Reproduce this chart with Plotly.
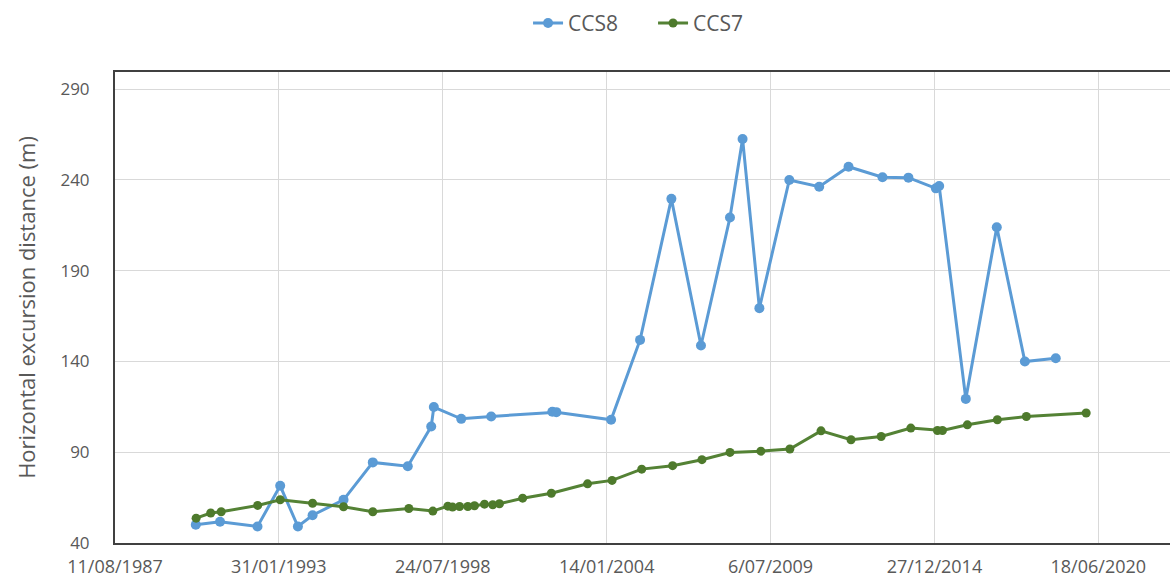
import plotly.graph_objects as go

# CCS8 survey dates and horizontal excursion distance (m)
ccs8_dates = [
    "1990-04-23", "1991-02-13", "1992-05-15", "1993-02-16", "1993-09-20",
    "1994-03-18", "1995-03-31", "1996-03-22", "1997-05-23", "1998-03-05",
    "1998-04-06", "1999-03-06", "2000-03-06", "2002-03-22", "2002-05-10",
    "2004-03-08", "2005-02-25", "2006-03-14", "2007-03-10", "2008-02-27",
    "2008-07-30", "2009-02-20", "2010-02-20", "2011-02-20", "2012-02-13",
    "2013-04-02", "2014-02-13", "2015-01-14", "2015-02-23", "2016-01-14",
    "2017-01-26", "2018-01-04", "2019-01-16",
]
ccs8_values = [
    50.1, 51.7, 49.1, 71.5, 49.1, 55.3, 63.8, 84.4, 82.3, 104.2,
    114.9, 108.4, 109.7, 112.3, 112.1, 107.9, 151.9, 229.6, 148.8, 219.3,
    262.6, 169.4, 240.0, 236.3, 247.3, 241.5, 241.3, 235.4, 236.7, 119.4,
    214.0, 140.0, 141.8,
]

# CCS7 survey dates and horizontal excursion distance (m)
ccs7_dates = [
    "1990-04-27", "1990-10-22", "1991-02-27", "1992-05-17", "1993-02-16",
    "1994-03-18", "1995-03-31", "1996-03-22", "1997-06-05", "1998-03-25",
    "1998-09-24", "1998-11-20", "1999-02-14", "1999-05-26", "1999-08-15",
    "1999-12-15", "2000-03-25", "2000-06-15", "2001-03-25", "2002-03-10",
    "2003-05-26", "2004-03-20", "2005-03-17", "2006-03-29", "2007-03-22",
    "2008-02-27", "2009-03-10", "2010-02-27", "2011-03-14", "2012-03-14",
    "2013-03-17", "2014-03-14", "2015-02-02", "2015-04-04", "2016-02-02",
    "2017-02-02", "2018-01-22", "2020-01-22",
]
ccs7_values = [
    53.7, 56.5, 57.2, 60.7, 63.8, 61.9, 60.0, 57.2, 59.0, 57.6,
    60.3, 59.8, 60.1, 60.1, 60.5, 61.4, 61.1, 61.6, 64.7, 67.4,
    72.6, 74.5, 80.7, 82.6, 85.9, 89.9, 90.6, 91.8, 101.8, 96.9,
    98.7, 103.3, 102.0, 102.0, 105.1, 107.9, 109.7, 111.6,
]

# Date axis ticks every 2000 days
x_tick_dates = ["1987-08-11", "1993-01-31", "1998-07-24", "2004-01-14",
                "2009-07-06", "2014-12-27", "2020-06-18"]
x_tick_labels = ["11/08/1987", "31/01/1993", "24/07/1998", "14/01/2004",
                 "6/07/2009", "27/12/2014", "18/06/2020"]
y_tick_values = [40, 90, 140, 190, 240, 290]

FONT = "Open Sans"
TEXT_COLOR = "#595959"

fig = go.Figure()
fig.add_trace(go.Scatter(
    x=ccs8_dates, y=ccs8_values, name="CCS8", mode="lines+markers",
    line=dict(color="#5B9BD5", width=3),
    marker=dict(color="#5B9BD5", size=10),
))
fig.add_trace(go.Scatter(
    x=ccs7_dates, y=ccs7_values, name="CCS7", mode="lines+markers",
    line=dict(color="#548235", width=3),
    marker=dict(color="#4E7A2C", size=9),
))

fig.update_layout(
    width=1171, height=583, autosize=False,
    margin=dict(l=115, r=1, t=72, b=40),
    paper_bgcolor="white", plot_bgcolor="white",
    font=dict(family=FONT, size=18, color=TEXT_COLOR),
    showlegend=True,
    legend=dict(orientation="h", x=0.51, xanchor="center", y=0.96,
                yanchor="middle", yref="container", font=dict(size=21),
                entrywidth=80, entrywidthmode="pixels", tracegroupgap=0),
)

fig.update_xaxes(
    type="date", range=["1987-08-11", "2022-11-10"],
    tickmode="array", tickvals=x_tick_dates, ticktext=x_tick_labels,
    showgrid=True, gridcolor="#D9D9D9", gridwidth=1,
    showline=True, linecolor="#404040", linewidth=2, mirror=True,
    ticks="", zeroline=False, tickfont=dict(size=18, color=TEXT_COLOR),
    ticklabelstandoff=6,
)
fig.update_yaxes(
    range=[40, 299.5], tickmode="array", tickvals=y_tick_values,
    showgrid=True, gridcolor="#D9D9D9", gridwidth=1,
    showline=True, linecolor="#404040", linewidth=2,
    ticks="", zeroline=False, tickfont=dict(size=17, color=TEXT_COLOR),
    ticklabelstandoff=20,
    title=dict(text="Horizontal excursion distance (m)", standoff=19,
               font=dict(size=22, color=TEXT_COLOR)),
)

fig.write_html("out.html")
